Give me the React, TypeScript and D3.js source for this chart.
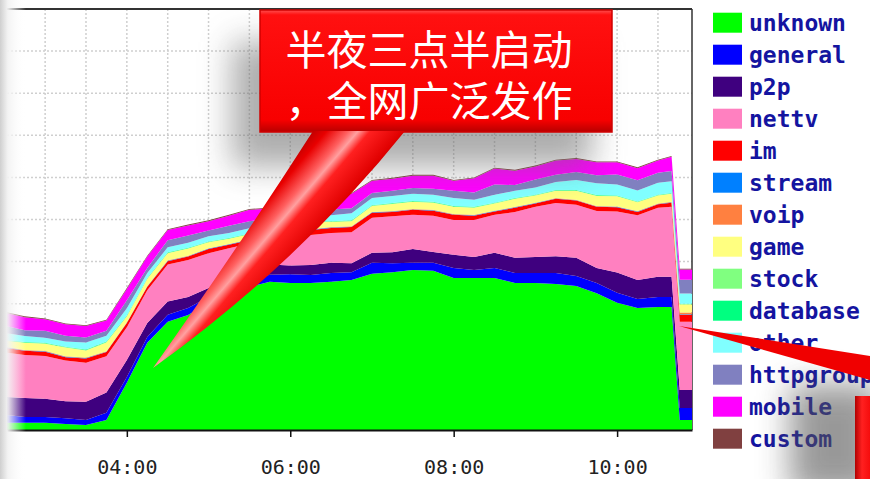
import React, { useRef, useEffect } from "react";
import * as d3 from "d3";

// sample times (hh:mm)
const times = [
  "02:30", "02:45", "03:00", "03:15", "03:30", "03:45", "04:00", "04:15", "04:30",
  "04:45", "05:00", "05:15", "05:30", "05:45", "06:00", "06:15", "06:30", "06:45",
  "07:00", "07:15", "07:30", "07:45", "08:00", "08:15", "08:30", "08:45", "09:00",
  "09:15", "09:30", "09:45", "10:00", "10:15", "10:30", "10:40", "10:46", "10:55",
];

// traffic per protocol group (stacked, bottom to top)
const unknown = [17, 17, 17, 14, 12, 24, 112, 207, 257, 273, 302, 325, 340, 352, 349, 349, 352, 356, 371, 375, 380, 378, 361, 361, 361, 349, 349, 347, 342, 325, 302, 290, 292, 292, 24, 24];
const general = [19, 14, 14, 14, 12, 17, 14, 14, 17, 17, 14, 12, 17, 17, 21, 19, 21, 19, 26, 21, 17, 19, 24, 19, 24, 24, 24, 26, 24, 24, 24, 21, 24, 24, 28, 28];
const p2p = [43, 45, 43, 40, 43, 48, 40, 33, 31, 26, 21, 24, 24, 24, 21, 24, 24, 21, 24, 26, 33, 26, 31, 31, 36, 36, 38, 40, 43, 36, 48, 45, 48, 48, 43, 43];
const nettv = [105, 102, 102, 97, 93, 86, 78, 78, 88, 88, 83, 71, 62, 57, 71, 71, 71, 74, 83, 86, 81, 86, 83, 88, 90, 109, 119, 126, 126, 135, 145, 154, 164, 166, 162, 162];
const im = [12, 10, 10, 8, 10, 10, 10, 8, 8, 8, 10, 8, 8, 8, 8, 12, 12, 12, 12, 10, 12, 12, 12, 10, 8, 10, 8, 10, 10, 10, 10, 8, 8, 10, 17, 17];
const stream = [1, 1, 1, 1, 1, 1, 1, 1, 1, 1, 1, 1, 1, 1, 1, 1, 1, 1, 1, 1, 1, 1, 1, 1, 1, 1, 1, 1, 1, 1, 1, 1, 1, 1, 1, 1];
const voip = [1, 1, 1, 1, 1, 1, 1, 1, 1, 1, 1, 1, 1, 1, 1, 1, 1, 1, 1, 1, 1, 1, 1, 1, 1, 1, 1, 1, 1, 1, 1, 1, 1, 1, 4, 4];
const game = [14, 17, 17, 21, 17, 21, 14, 17, 17, 17, 14, 12, 12, 14, 17, 17, 12, 12, 14, 17, 17, 17, 17, 17, 17, 19, 17, 17, 21, 24, 24, 21, 19, 19, 19, 19];
const stock = [1, 1, 1, 1, 1, 1, 1, 1, 1, 1, 1, 1, 1, 1, 1, 1, 1, 1, 1, 1, 1, 1, 1, 1, 1, 1, 1, 1, 1, 1, 1, 1, 1, 1, 1, 1];
const database = [1, 1, 1, 1, 1, 1, 1, 1, 1, 1, 1, 1, 1, 1, 1, 1, 1, 1, 1, 1, 1, 1, 1, 1, 1, 1, 1, 1, 1, 1, 1, 1, 1, 1, 1, 1];
const other = [17, 14, 12, 12, 17, 14, 17, 12, 12, 12, 12, 12, 12, 12, 12, 14, 14, 17, 17, 17, 17, 17, 19, 17, 19, 17, 17, 19, 24, 28, 26, 26, 28, 28, 24, 24];
const httpgroup = [17, 14, 17, 14, 12, 12, 19, 12, 17, 17, 14, 17, 17, 14, 12, 12, 14, 12, 12, 12, 14, 14, 17, 17, 24, 14, 19, 17, 19, 19, 24, 24, 24, 24, 33, 33];
const mobile = [31, 31, 27, 27, 27, 24, 27, 27, 24, 24, 22, 24, 27, 24, 22, 34, 31, 34, 29, 29, 29, 31, 24, 34, 38, 34, 31, 34, 31, 31, 29, 29, 29, 34, 24, 24];
const custom = [2, 2, 2, 2, 2, 2, 2, 2, 2, 2, 2, 2, 2, 2, 2, 2, 2, 2, 2, 2, 2, 2, 2, 2, 2, 2, 2, 2, 2, 2, 2, 2, 2, 2, 2, 2];

const seriesNames = ["unknown", "general", "p2p", "nettv", "im", "stream", "voip", "game", "stock", "database", "other", "httpgroup", "mobile", "custom"];
const seriesValues = [unknown, general, p2p, nettv, im, stream, voip, game, stock, database, other, httpgroup, mobile, custom];
const seriesColors = ["#00ff00", "#0000ff", "#3f007f", "#ff80c0", "#ff0000", "#0080ff", "#ff8040", "#ffff80", "#80ff80", "#00ff80", "#80ffff", "#8080c0", "#ff00ff", "#804040"];

const calloutLines = ["半夜三点半启动", "，全网广泛发作"];

const W = 870;
const H = 479;
const plot = { left: 7, right: 692, top: 9, bottom: 430 };
const parseTime = d3.timeParse("%H:%M");

const App = () => {
  const axisRef = useRef<SVGGElement>(null);

  const x = d3.scaleTime()
    .domain([parseTime("02:32") as Date, parseTime("10:55") as Date])
    .range([plot.left, plot.right]);
  const y = d3.scaleLinear().domain([0, 1000]).range([plot.bottom, plot.top]);

  const rows = times.map((t, i) => {
    const r: any = { time: parseTime(t) };
    seriesNames.forEach((n, k) => (r[n] = seriesValues[k][i]));
    return r;
  });
  const stacked = d3.stack<any>().keys(seriesNames)(rows);
  const area = d3.area<any>()
    .x((d) => x(d.data.time))
    .y0((d) => y(d[0]))
    .y1((d) => y(d[1]));

  const vGrid = x.ticks(d3.timeMinute.every(30) as any);
  const hGrid = y.ticks(10).filter((v) => v > 0 && v < 1000);

  useEffect(() => {
    const g = d3.select(axisRef.current as SVGGElement);
    g.call(
      d3.axisBottom(x)
        .ticks(d3.timeHour.every(2) as any)
        .tickFormat(d3.timeFormat("%H:%M") as any)
        .tickSize(7)
        .tickSizeOuter(0)
        .tickPadding(23)
    );
    g.select(".domain").attr("stroke", "#111").attr("stroke-width", 2);
    g.selectAll(".tick line").attr("stroke", "#111").attr("stroke-width", 1.5);
    g.selectAll(".tick text")
      .attr("font-family", "'DejaVu Sans Mono', monospace")
      .attr("font-size", 20)
      .attr("fill", "#222");
  }, []);

  return (
    <svg width={W} height={H} style={{ position: "absolute", left: 0, top: 0, background: "#fff" }}>
      <defs>
        <clipPath id="plotClip">
          <rect x={plot.left} y={plot.top} width={plot.right - plot.left} height={plot.bottom - plot.top} />
        </clipPath>
        <filter id="softShadow" x="-50%" y="-50%" width="200%" height="200%">
          <feGaussianBlur stdDeviation="16" />
        </filter>
        <linearGradient id="leftFade" x1="0" x2="1" y1="0" y2="0">
          <stop offset="0" stopColor="#cfcfcf" stopOpacity={1} />
          <stop offset="0.3" stopColor="#f2f2f2" stopOpacity={0.95} />
          <stop offset="1" stopColor="#ffffff" stopOpacity={0} />
        </linearGradient>
        <linearGradient id="boxFill" x1="0" x2="0" y1="0" y2="1">
          <stop offset="0" stopColor="#ff5050" />
          <stop offset="0.04" stopColor="#ff1010" />
          <stop offset="0.9" stopColor="#f80000" />
          <stop offset="1" stopColor="#b80000" />
        </linearGradient>
        <linearGradient id="coneFill" gradientUnits="userSpaceOnUse" x1="222" y1="222" x2="292" y2="282">
          <stop offset="0" stopColor="#a00000" />
          <stop offset="0.22" stopColor="#e80000" />
          <stop offset="0.4" stopColor="#ff6060" />
          <stop offset="0.48" stopColor="#ffa0a0" />
          <stop offset="0.58" stopColor="#ff2020" />
          <stop offset="0.85" stopColor="#e00000" />
          <stop offset="1" stopColor="#a80000" />
        </linearGradient>
        <linearGradient id="sideBox" x1="0" x2="1" y1="0" y2="0">
          <stop offset="0" stopColor="#b00000" />
          <stop offset="0.35" stopColor="#ff2020" />
          <stop offset="1" stopColor="#f00000" />
        </linearGradient>
      </defs>

      {/* grid */}
      <g stroke="#cfcfcf" strokeWidth={1.5} strokeDasharray="2,2">
        {vGrid.map((t, i) => (
          <line key={"v" + i} x1={x(t)} x2={x(t)} y1={plot.top} y2={plot.bottom} />
        ))}
        {hGrid.map((v, i) => (
          <line key={"h" + i} x1={plot.left} x2={plot.right} y1={y(v)} y2={y(v)} />
        ))}
      </g>
      <line x1={plot.left} x2={plot.right} y1={plot.top} y2={plot.top} stroke="#333" strokeWidth={2} />
      <line x1={plot.right} x2={plot.right} y1={plot.top} y2={plot.bottom} stroke="#333" strokeWidth={1.5} />

      {/* stacked areas */}
      <g clipPath="url(#plotClip)">
        {stacked.map((s, i) => (
          <path key={s.key} d={area(s) as string} fill={seriesColors[i]} />
        ))}
      </g>

      <g ref={axisRef} transform={`translate(0,${plot.bottom})`} />

      {/* legend */}
      <g>
        {seriesNames.map((n, i) => (
          <g key={n} transform={`translate(713,${22.7 + i * 32})`}>
            <rect x={0} y={-10} width={29} height={20} fill={seriesColors[i]} />
            <text
              x={36}
              y={0}
              dominantBaseline="central"
              fontFamily="'DejaVu Sans Mono', monospace"
              fontWeight="bold"
              fontSize={23}
              fill="#1414a0"
            >
              {n}
            </text>
          </g>
        ))}
      </g>

      {/* left page shading */}
      <rect x={0} y={0} width={26} height={H} fill="url(#leftFade)" />

      {/* callout */}
      <rect x={232} y={42} width={360} height={125} fill="#6a6a6a" opacity={0.55} filter="url(#softShadow)" />
      <rect x={260} y={10} width={352} height={122} fill="url(#boxFill)" stroke="#d00000" strokeWidth={1.5} />
      <path d="M 313 131 Q 240 245 153 368 Q 300 262 405 131 Z" fill="url(#coneFill)" />
      {calloutLines.map((l, i) => (
        <text
          key={i}
          x={429}
          y={47 + i * 51}
          textAnchor="middle"
          dominantBaseline="central"
          fontFamily="'Noto Sans CJK SC', sans-serif"
          fontSize={41}
          fill="#fff"
        >
          {l}
        </text>
      ))}

      {/* second callout at right edge */}
      <rect x={790} y={385} width={90} height={110} fill="#555" opacity={0.6} filter="url(#softShadow)" />
      <path d="M 679 326 L 870 356 L 870 380 Z" fill="#f00000" />
      <rect x={855} y={396} width={20} height={90} fill="url(#sideBox)" />
    </svg>
  );
};

export default App;
